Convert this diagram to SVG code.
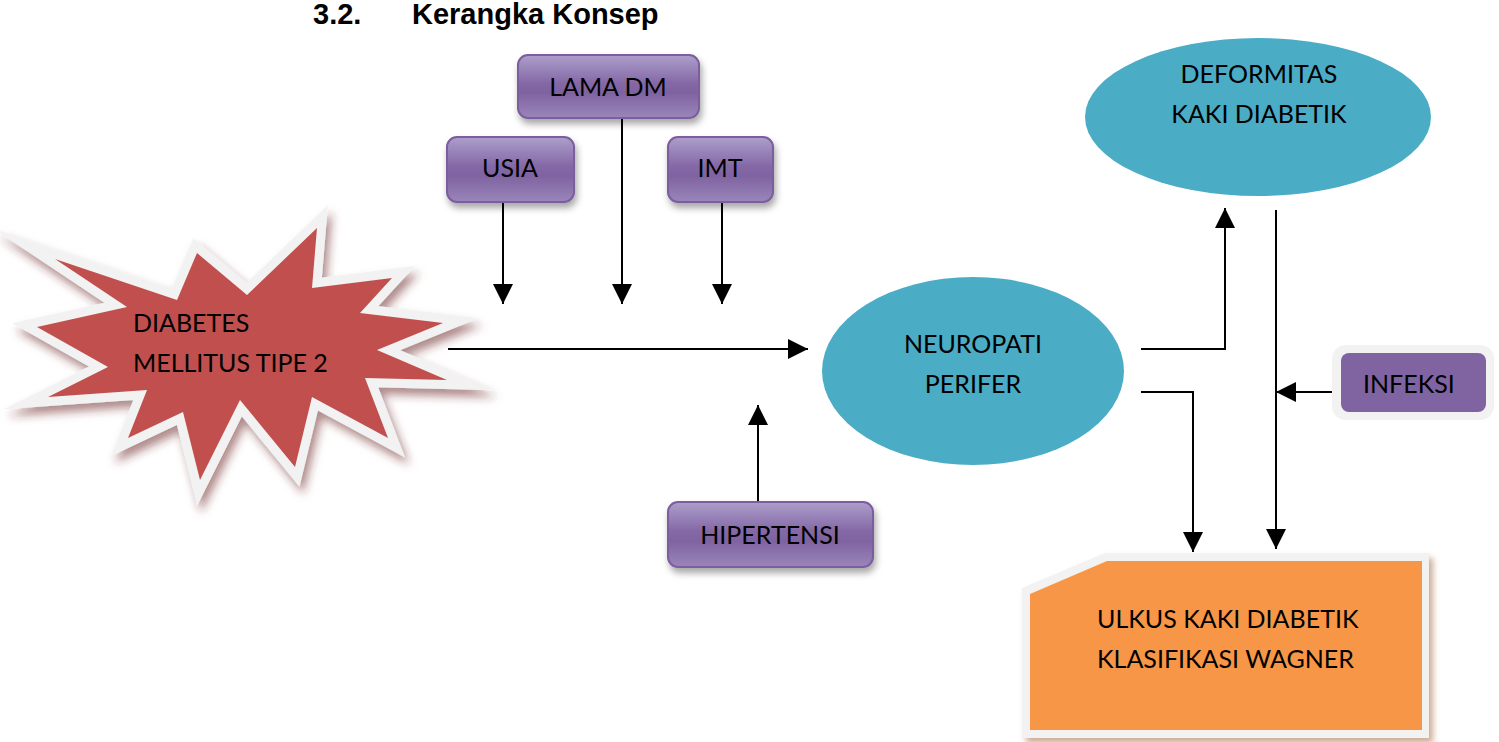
<svg xmlns="http://www.w3.org/2000/svg" width="1499" height="742" viewBox="0 0 1499 742">
<defs>
<style>
.t{font-family:Lato,"Open Sans","Liberation Sans",sans-serif;font-size:25px;fill:#000}
.c{text-anchor:middle}
.box{fill:url(#pg);stroke:#7B5D9E;stroke-width:2}
.conn{fill:none;stroke:#000;stroke-width:2}
.ell{fill:#4BACC6}
</style>
<linearGradient id="pg" x1="0" y1="0" x2="0" y2="1">
<stop offset="0" stop-color="#AD9FCB"/>
<stop offset="0.45" stop-color="#8468A6"/>
<stop offset="0.6" stop-color="#7F63A1"/>
<stop offset="1" stop-color="#9A86BA"/>
</linearGradient>
<filter id="sh" x="-20%" y="-20%" width="140%" height="160%">
<feDropShadow dx="2" dy="5" stdDeviation="3.5" flood-color="#000" flood-opacity="0.35"/>
</filter>
<filter id="shr" x="-20%" y="-20%" width="140%" height="150%">
<feDropShadow dx="4" dy="7" stdDeviation="5" flood-color="#6E2A28" flood-opacity="0.55"/>
</filter>
<filter id="sho" x="-10%" y="-10%" width="120%" height="130%">
<feDropShadow dx="4" dy="5" stdDeviation="3" flood-color="#9A5A2A" flood-opacity="0.5"/>
</filter>
<marker id="ah" markerUnits="userSpaceOnUse" markerWidth="20" markerHeight="20" refX="20" refY="10" orient="auto">
<path d="M0,0 L20,10 L0,20 z" fill="#000"/>
</marker>
</defs>
<rect width="1499" height="742" fill="#fff"/>

<g id="title" font-family="'Liberation Sans',Arial,sans-serif" font-weight="bold" font-size="29" fill="#000">
<text x="313" y="24">3.2.</text>
<text x="412" y="24">Kerangka Konsep</text>
</g>

<g id="connectors">
<line class="conn" x1="448" y1="349" x2="808" y2="349" marker-end="url(#ah)"/>
<line class="conn" x1="503" y1="202" x2="503" y2="304" marker-end="url(#ah)"/>
<line class="conn" x1="622" y1="118" x2="622" y2="304" marker-end="url(#ah)"/>
<line class="conn" x1="722" y1="202" x2="722" y2="304" marker-end="url(#ah)"/>
<line class="conn" x1="758" y1="502" x2="758" y2="405" marker-end="url(#ah)"/>
<polyline class="conn" points="1141,349 1225,349 1225,208" marker-end="url(#ah)"/>
<polyline class="conn" points="1141,392 1193,392 1193,552" marker-end="url(#ah)"/>
<line class="conn" x1="1276" y1="210" x2="1276" y2="549" marker-end="url(#ah)"/>
<line class="conn" x1="1337" y1="392" x2="1276" y2="392" marker-end="url(#ah)"/>
</g>

<g id="diabetes">
<polygon filter="url(#shr)" points="55,259 177,300 197,253 247,295 317,228 312,288 392,278 360,313 443,323 377,350 447,380 365,378 388,438 312,397 295,467 240,400 200,480 183,412 128,438 147,390 48,397 108,367 37,327 127,307" fill="#C0504D" stroke="#F2F2F2" stroke-width="18" stroke-linejoin="miter" stroke-miterlimit="10" paint-order="stroke"/>
<text class="t" x="133" y="332">DIABETES</text>
<text class="t" x="133" y="372">MELLITUS TIPE 2</text>
</g>

<g id="lama-dm">
<rect class="box" filter="url(#sh)" x="518" y="55" width="181" height="63" rx="10"/>
<text class="t c" x="608" y="96">LAMA DM</text>
</g>
<g id="usia">
<rect class="box" filter="url(#sh)" x="447" y="137" width="127" height="65" rx="10"/>
<text class="t c" x="510" y="177">USIA</text>
</g>
<g id="imt">
<rect class="box" filter="url(#sh)" x="668" y="137" width="105" height="65" rx="10"/>
<text class="t c" x="720" y="177">IMT</text>
</g>
<g id="hipertensi">
<rect class="box" filter="url(#sh)" x="668" y="502" width="205" height="65" rx="10"/>
<text class="t c" x="770" y="544">HIPERTENSI</text>
</g>

<g id="neuropati">
<ellipse class="ell" cx="973" cy="371" rx="151" ry="94"/>
<text class="t c" x="973" y="353">NEUROPATI</text>
<text class="t c" x="973" y="393">PERIFER</text>
</g>

<g id="deformitas">
<ellipse class="ell" cx="1258" cy="117" rx="173" ry="79"/>
<text class="t c" x="1259" y="83">DEFORMITAS</text>
<text class="t c" x="1259" y="123">KAKI DIABETIK</text>
</g>

<g id="infeksi">
<rect x="1332" y="345" width="162" height="75" rx="14" fill="#F2F2F2"/>
<rect x="1341" y="353" width="145" height="59" rx="8" fill="#8064A2"/>
<text class="t" x="1363" y="393">INFEKSI</text>
</g>

<g id="ulkus">
<polygon filter="url(#sho)" points="1022,588 1105,553 1429,553 1429,738 1022,738" fill="#F2F2F2"/>
<polygon points="1030,594 1107,561 1422,561 1422,730 1030,730" fill="#F79646"/>
<text class="t" x="1097" y="628">ULKUS KAKI DIABETIK</text>
<text class="t" x="1097" y="668">KLASIFIKASI WAGNER</text>
</g>
</svg>
